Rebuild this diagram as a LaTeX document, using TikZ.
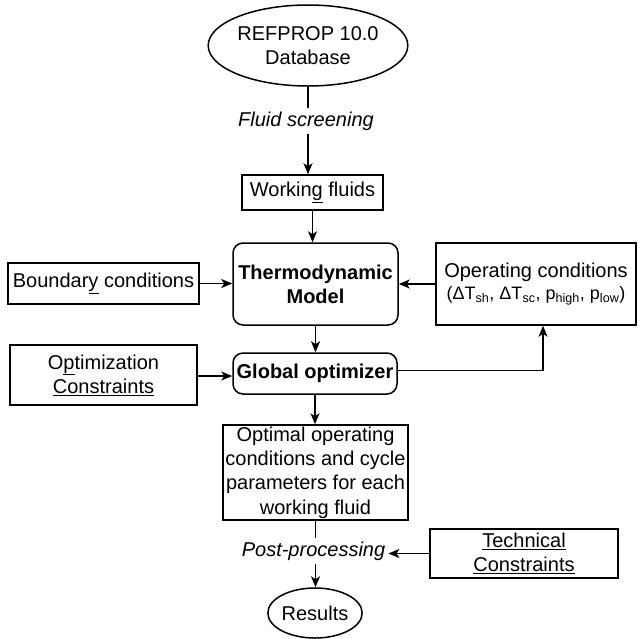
\documentclass[tikz,border=0pt]{standalone}
\usepackage{fontspec}
\setmainfont{Liberation Sans}
\usetikzlibrary{shapes.geometric,arrows.meta}
\begin{document}
\begin{tikzpicture}[x=1pt,y=-1pt,
  txt/.style={font=\fontsize{20}{24.3}\selectfont},
  box/.style={txt, draw, line width=1.5pt, inner sep=0pt, align=center},
  rbox/.style={box, rounded corners=10pt},
  ell/.style={box, ellipse},
  lbl/.style={txt, inner sep=3pt},
  line/.style={line width=1.6pt},
  arr/.style={line, -{Stealth[length=11pt,width=9pt,inset=3pt]}}]
\useasboundingbox (0,0) rectangle (644,638);

\node[ell, minimum width=170pt, minimum height=81pt] (ref) at (308,45.5) {REFPROP 10.0\\Database};
\node[lbl] (screen) at (306,121) {\itshape Fluid screening};
\node[box, minimum width=141pt, minimum height=35pt] (wf) at (312.5,192.5) {Workin\underline{g} fluids};
\node[rbox, minimum width=165pt, minimum height=82pt] (thermo) at (315.5,284) {\bfseries Thermodynamic\\\bfseries Model};
\node[box, minimum width=191pt, minimum height=41pt] (bc) at (103.5,283.5) {Boundar\underline{y} conditions};
\node[box, minimum width=200pt, minimum height=82pt] (oc) at (536,284) {Operating conditions\\[-2pt]{\fontsize{18}{22}\selectfont (ΔT\textsubscript{sh}, ΔT\textsubscript{sc}, p\textsubscript{high}, p\textsubscript{low})}};
\node[rbox, minimum width=164pt, minimum height=41pt] (go) at (315,373.5) {\bfseries Global optimizer};
\node[box, minimum width=187pt, minimum height=60pt] (cons) at (103.5,375) {O\underline{p}timization\\\underline{Constraints}};
\node[box, minimum width=185pt, minimum height=95pt] (opt) at (315.5,472.5) {Optimal operating\\conditions and cycle\\parameters for each\\working fluid};
\node[lbl] (pp) at (313.5,551) {\itshape Post-processing};
\node[ell, minimum width=80pt, minimum height=50pt] (res) at (315,613) {Results};
\node[box, minimum width=188pt, minimum height=49pt] (tc) at (524,553.5) {\underline{Technical}\\\underline{Constraints}};

\draw[line] (ref.south) -- (ref.south |- screen.north);
\draw[arr] (ref.south |- screen.south) -- (ref.south |- wf.north);
\draw[arr] (wf.south) -- (wf.south |- thermo.north);
\draw[arr] (bc.east) -- (bc.east -| thermo.west);
\draw[arr] (oc.west) -- (oc.west -| thermo.east);
\draw[arr] (thermo.south) -- (thermo.south |- go.north);
\draw[arr] ([yshift=-1pt]cons.east) -- ([yshift=-1pt]cons.east -| go.west);
\draw[arr] ([yshift=3pt]go.east) -| ([xshift=7pt]oc.south);
\draw[arr] (go.south) -- (go.south |- opt.north);
\draw[line] (opt.south) -- (opt.south |- pp.north);
\draw[arr] (opt.south |- pp.south) -- (opt.south |- res.north);
\draw[arr] (tc.west) -- (tc.west -| pp.east);
\end{tikzpicture}
\end{document}
